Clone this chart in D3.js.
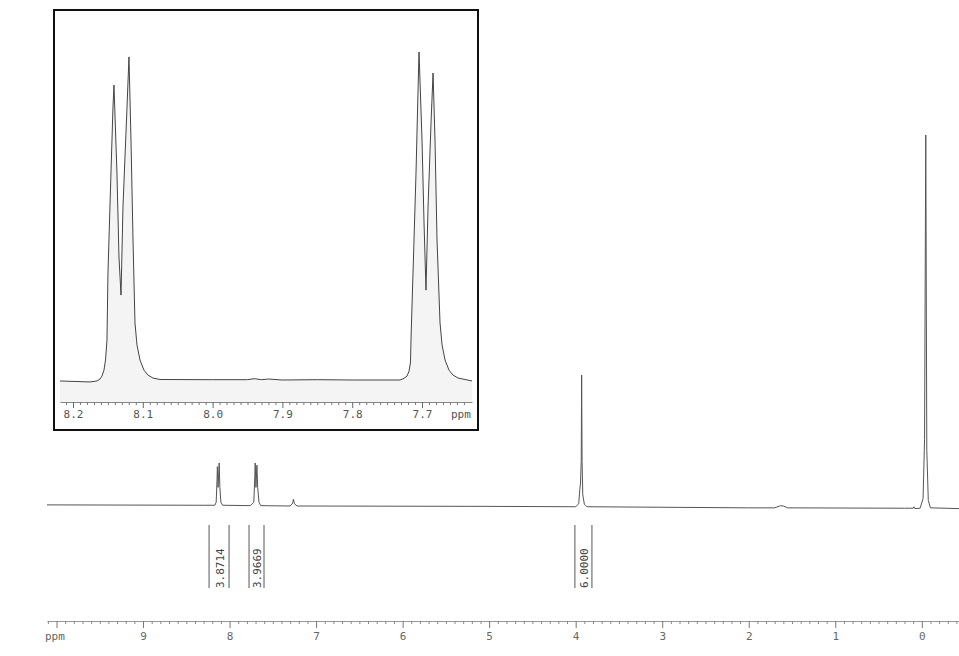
<!DOCTYPE html>
<html>
<head>
<meta charset="utf-8">
<script src="https://cdn.jsdelivr.net/npm/d3@7"></script>
<style>
body { margin: 0; background: #fff; }
svg text { font-family: "DejaVu Sans Mono", monospace; }
</style>
</head>
<body>
<div id="chart"></div>
<script>
// full spectrum trace, chemical shift (ppm) and intensity (TMS = 100)
const mainShift = [10.11, 8.30, 8.17, 8.155, 8.145, 8.141, 8.133, 8.120, 8.112, 8.10, 8.08,
    7.76, 7.72, 7.708, 7.704, 7.695, 7.684, 7.675, 7.66, 7.64,
    7.30, 7.27, 7.262, 7.25, 7.22, 5.00,
    4.00, 3.965, 3.952, 3.944, 3.936, 3.931, 3.926, 3.918, 3.90, 3.87,
    2.00, 1.70, 1.63, 1.60, 1.55,
    0.20, 0.10, 0.09, 0.08, 0.02, -0.015, -0.032, -0.046, -0.058, -0.075, -0.10, -0.43];
const mainIntensity = [0.3, 0.2, 0.2, 1.0, 7.0, 10.6, 5.0, 11.6, 5.0, 1.0, 0.2,
    0.1, 1.0, 8.0, 11.6, 5.0, 11.0, 5.0, 1.0, 0.1,
    0.0, 0.8, 1.8, 0.6, 0.0, -0.1,
    -0.2, 0.6, 4.5, 6.2, 12.0, 35.3, 12.0, 3.0, 0.5, -0.2,
    -0.5, -0.5, 0.1, 0.0, -0.5,
    -0.6, -0.6, -0.2, -0.7, -0.6, 2.0, 18.0, 100, 15.0, 1.5, -0.5, -0.7];

// expanded aromatic region trace (inset), intensity scaled so the tallest line = 100
const insetShift = [8.2186, 8.1756, 8.1656, 8.1613, 8.1585, 8.1556, 8.1534, 8.1513, 8.1499,
    8.1456, 8.1427, 8.1413, 8.137, 8.1341, 8.1312,
    8.1284, 8.1226, 8.1198, 8.1169, 8.114, 8.1112, 8.1083, 8.104, 8.0983, 8.0926, 8.0854, 8.0754,
    8.00, 7.95, 7.94, 7.93, 7.92, 7.90, 7.85, 7.80,
    7.7315, 7.7258, 7.7215, 7.7186, 7.7165, 7.7158, 7.7129, 7.7086, 7.7057, 7.7043,
    7.7000, 7.6971, 7.6943, 7.6914, 7.6871, 7.6842, 7.6814, 7.6785,
    7.6742, 7.6713, 7.6670, 7.6613, 7.6556, 7.6484, 7.6384, 7.6284];
const insetIntensity = [-0.3, -0.6, -0.3, 0.3, 1.2, 3.0, 6.1, 12.2, 32.6,
    63.1, 83.2, 89.9, 63.1, 37.5, 25.9,
    52.7, 83.2, 98.5, 73.2, 42.7, 17.4, 10.7, 6.1, 3.0, 1.5, 0.6, 0.15,
    0.1, 0.1, 0.4, 0.1, 0.3, 0.0, 0.1, 0.0,
    0.0, 0.5, 1.2, 2.7, 5.5, 12.2, 32.6, 63.1, 88.4, 100,
    73.2, 47.9, 27.4, 52.7, 78.4, 93.6, 73.2, 42.7,
    17.4, 10.7, 6.1, 3.0, 1.5, 0.6, 0.15, -0.3];

// integral regions
const integralFrom = [8.237, 7.775, 4.009];
const integralTo = [8.006, 7.602, 3.812];
const integralValue = ["3.8714", "3.9669", "6.0000"];

// axis ticks
const mainMajorTicks = [10, 9, 8, 7, 6, 5, 4, 3, 2, 1, 0];
const mainTickLabels = ["", "9", "8", "7", "6", "5", "4", "3", "2", "1", "0"];
const insetMajorTicks = [8.2, 8.1, 8.0, 7.9, 7.8, 7.7];
const insetTickLabels = ["8.2", "8.1", "8.0", "7.9", "7.8", "7.7"];

const width = 959, height = 656;
const svg = d3.select("#chart").append("svg")
    .attr("width", width)
    .attr("height", height);

//Main spectrum scales
const x = d3.scaleLinear().domain([10.11, -0.43]).range([47, 959]);
const y = d3.scaleLinear().domain([0, 100]).range([506, 135]);

const mainData = mainShift.map((s, i) => ({ s: s, v: mainIntensity[i] }));
svg.append("path")
    .datum(mainData)
    .attr("d", d3.line().x(d => x(d.s)).y(d => y(d.v)))
    .attr("fill", "none")
    .attr("stroke", "#555")
    .attr("stroke-width", 1);

//Integral brackets
const integ = svg.append("g").attr("class", "integrals");
integralValue.forEach((val, i) => {
    let x0 = x(integralFrom[i]), x1 = x(integralTo[i]);
    [x0, x1].forEach(xx => {
        integ.append("line")
            .attr("x1", xx).attr("x2", xx)
            .attr("y1", 525).attr("y2", 588)
            .attr("stroke", "#555").attr("stroke-width", 1);
    });
    let cx = (x0 + x1) / 2 + 1;
    integ.append("text")
        .attr("transform", "translate(" + cx + ",588)rotate(-90)")
        .attr("dominant-baseline", "central")
        .attr("font-size", 11)
        .attr("fill", "#444")
        .text(val);
});

//Main axis
const mainMinor = d3.range(101, -5, -1).map(d => d / 10).filter(d => d % 1 !== 0);
const axisY = 621;
const gMain = svg.append("g").attr("transform", "translate(0," + axisY + ")");
gMain.append("g")
    .call(d3.axisBottom(x).tickValues(mainMinor).tickSize(3).tickSizeOuter(0).tickFormat(""))
    .call(g => g.select(".domain").attr("stroke", "#999"))
    .call(g => g.selectAll(".tick line").attr("stroke", "#888"));
gMain.append("g")
    .call(d3.axisBottom(x).tickValues(mainMajorTicks).tickSize(7).tickPadding(4).tickSizeOuter(0)
        .tickFormat((d, i) => mainTickLabels[i]))
    .call(g => g.select(".domain").remove())
    .call(g => g.selectAll(".tick line").attr("stroke", "#777"))
    .call(g => g.selectAll(".tick text").attr("font-family", "DejaVu Sans").attr("font-size", 11).attr("fill", "#666"));
svg.append("text")
    .attr("x", 45).attr("y", 640)
    .attr("font-family", "DejaVu Sans")
    .attr("font-size", 11).attr("fill", "#666")
    .text("ppm");

//Inset
const inset = svg.append("g").attr("class", "inset");
inset.append("rect")
    .attr("x", 54).attr("y", 10).attr("width", 424).attr("height", 420)
    .attr("fill", "#fff");

const xi = d3.scaleLinear().domain([8.2186, 7.6284]).range([60, 472]);
const yi = d3.scaleLinear().domain([0, 100]).range([380, 52]);
const insetData = insetShift.map((s, i) => ({ s: s, v: insetIntensity[i] }));

inset.append("path")
    .datum(insetData)
    .attr("d", d3.area().x(d => xi(d.s)).y0(402).y1(d => yi(d.v)))
    .attr("fill", "#f4f4f4");
inset.append("path")
    .datum(insetData)
    .attr("d", d3.line().x(d => xi(d.s)).y(d => yi(d.v)))
    .attr("fill", "none")
    .attr("stroke", "#444")
    .attr("stroke-width", 1);

const insetMinor = d3.range(821, 763, -1).map(d => d / 100).filter(d => Math.round(d * 100) % 10 !== 0);
const gInset = inset.append("g").attr("transform", "translate(0,402)");
gInset.append("g")
    .call(d3.axisBottom(xi).tickValues(insetMinor).tickSize(3).tickSizeOuter(0).tickFormat(""))
    .call(g => g.select(".domain").attr("stroke", "#888"))
    .call(g => g.selectAll(".tick line").attr("stroke", "#777"));
gInset.append("g")
    .call(d3.axisBottom(xi).tickValues(insetMajorTicks).tickSize(6).tickPadding(2).tickSizeOuter(0)
        .tickFormat((d, i) => insetTickLabels[i]))
    .call(g => g.select(".domain").remove())
    .call(g => g.selectAll(".tick line").attr("stroke", "#666"))
    .call(g => g.selectAll(".tick text").attr("font-family", "DejaVu Sans Mono").attr("font-size", 11).attr("fill", "#555"));
inset.append("text")
    .attr("x", 451).attr("y", 418)
    .attr("font-size", 11).attr("fill", "#555")
    .text("ppm");

inset.append("rect")
    .attr("x", 54).attr("y", 10).attr("width", 424).attr("height", 420)
    .attr("fill", "none")
    .attr("stroke", "#111")
    .attr("stroke-width", 2);
</script>
</body>
</html>
